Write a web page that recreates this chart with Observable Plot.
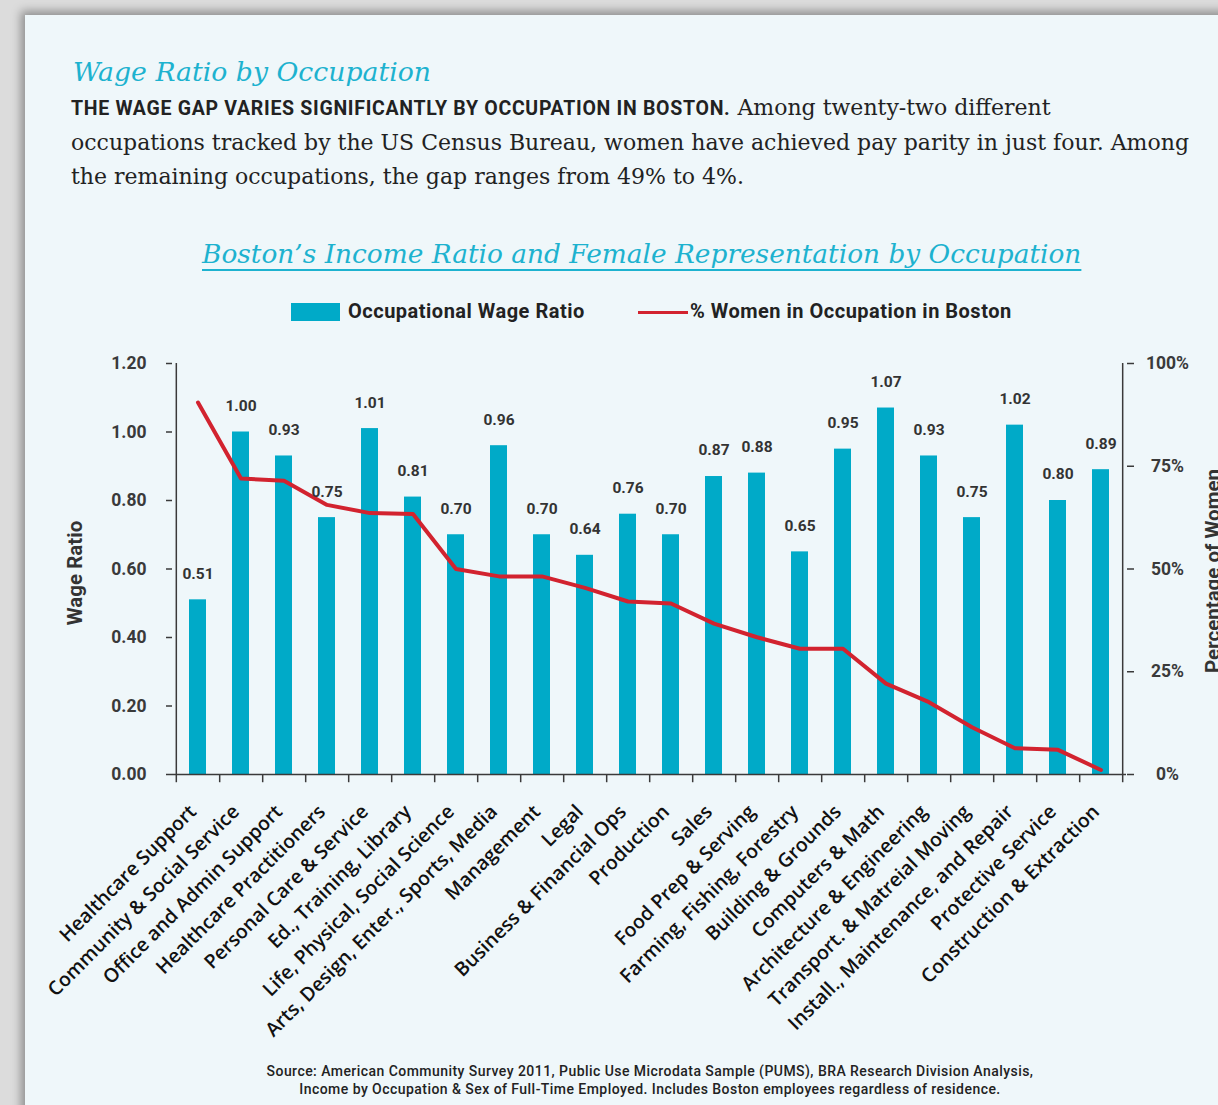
<!DOCTYPE html>
<html><head><meta charset="utf-8">
<script src="https://cdn.jsdelivr.net/npm/d3@7"></script>
<script src="https://cdn.jsdelivr.net/npm/@observablehq/plot@0.6"></script>
<style>
html,body{margin:0;padding:0;width:1218px;height:1105px;overflow:hidden;background:#dcdcdc;}
#card{position:absolute;left:25px;top:15px;width:1230px;height:1120px;background:#eff7fa;box-shadow:-4px -4px 9px rgba(0,0,0,0.35);}
.abs{position:absolute;white-space:nowrap;}
#title{left:73px;top:59px;font-family:"DejaVu Serif";font-style:italic;font-size:26.7px;line-height:1;color:#1db2cf;}
#para{left:71px;top:91px;font-family:"DejaVu Serif";font-size:22px;line-height:34px;color:#222;}
#para b{font-family:Roboto;font-weight:700;font-size:19.5px;letter-spacing:0.7px;}
#ctitle{left:202px;top:241px;font-family:"DejaVu Serif";font-style:italic;font-size:26.4px;line-height:1;color:#1db2cf;text-decoration:underline;text-decoration-thickness:2px;text-underline-offset:6px;}
.legtxt{font-family:Roboto;font-weight:700;font-size:20px;letter-spacing:0.5px;line-height:20px;color:#222;top:301px;}
#source{left:150px;width:1000px;top:1062px;text-align:center;font-family:Roboto;font-weight:500;font-size:14px;letter-spacing:0.45px;line-height:18px;color:#222;}
.ytitle{font-family:Roboto;font-weight:700;font-size:20.5px;color:#333;transform:translate(-50%,-50%) rotate(-90deg);}
#chart{position:absolute;left:0;top:330px;}
</style>
</head><body>
<div id="card"></div>
<div class="abs" id="title">Wage Ratio by Occupation</div>
<div class="abs" id="para"><b>THE WAGE GAP VARIES SIGNIFICANTLY BY OCCUPATION IN BOSTON.</b> Among twenty-two different<br>occupations tracked by the US Census Bureau, women have achieved pay parity in just four. Among<br>the remaining occupations, the gap ranges from 49% to 4%.</div>
<div class="abs" id="ctitle">Boston’s Income Ratio and Female Representation by Occupation</div>
<div class="abs" style="left:291px;top:303px;width:49px;height:18px;background:#00aac8;"></div>
<div class="abs legtxt" style="left:348px;">Occupational Wage Ratio</div>
<div class="abs" style="left:638px;top:311px;width:50px;height:3px;background:#d2232f;"></div>
<div class="abs legtxt" style="left:690px;">% Women in Occupation in Boston</div>
<div class="abs ytitle" style="left:75px;top:573px;">Wage Ratio</div>
<div class="abs ytitle" style="left:1213px;top:571px;">Percentage of Women</div>
<div id="chart"></div>
<div class="abs" id="source">Source: American Community Survey 2011, Public Use Microdata Sample (PUMS), BRA Research Division Analysis,<br>Income by Occupation &amp; Sex of Full-Time Employed. Includes Boston employees regardless of residence.</div>
<script>
const occupations = ["Healthcare Support","Community & Social Service","Office and Admin Support","Healthcare Practitioners","Personal Care & Service","Ed., Training, Library","Life, Physical, Social Science","Arts, Design, Enter., Sports, Media","Management","Legal","Business & Financial Ops","Production","Sales","Food Prep & Serving","Farming, Fishing, Forestry","Building & Grounds","Computers & Math","Architecture & Engineering","Transport. & Matreial Moving","Install., Maintenance, and Repair","Protective Service","Construction & Extraction"];
const wageRatio = [0.51,1.00,0.93,0.75,1.01,0.81,0.70,0.96,0.70,0.64,0.76,0.70,0.87,0.88,0.65,0.95,1.07,0.93,0.75,1.02,0.80,0.89];
const pctWomen = [90.5,72.0,71.5,65.6,63.6,63.4,50.0,48.2,48.2,45.4,42.1,41.6,36.7,33.4,30.6,30.6,22.1,17.6,11.5,6.4,6.0,1.1];
const leftTicks = [0,0.2,0.4,0.6,0.8,1.0,1.2];
const rightTicks = [0,25,50,75,100];

const data = occupations.map((o,i)=>({occ:o, wage:wageRatio[i], pct:pctWomen[i]}));
const W = 1218, ML = 172, MR = 92;
const step = (W-ML-MR)/occupations.length;
const P2Y = 1.2/100;
const ink = "#3a3a3a";

const chart = Plot.plot({
  width: W, height: 730,
  marginTop: 33, marginBottom: 286, marginLeft: ML, marginRight: MR,
  style: {background:"transparent", fontFamily:"Roboto", overflow:"visible", color: ink},
  x: {domain: occupations, paddingInner: 0.6, paddingOuter: 0.3},
  y: {domain: [0, 1.2]},
  marks: [
    Plot.barY(data, {x:"occ", y:"wage", fill:"#00aac8"}),
    Plot.ruleY([0], {stroke: ink, strokeWidth: 1.5}),
    Plot.ruleX([occupations[0]], {x: d=>d, y1: 0, y2: 1.2, dx: -step/2, stroke: ink, strokeWidth: 1.5}),
    Plot.ruleX([occupations[occupations.length-1]], {x: d=>d, y1: 0, y2: 1.2, dx: step/2, stroke: ink, strokeWidth: 1.5}),
    Plot.ruleX(occupations, {x: d=>d, y1: 0, y2: -0.024, dx: step/2, stroke: ink, strokeWidth: 1.5}),
    Plot.ruleX([occupations[0]], {x: d=>d, y1: 0, y2: -0.024, dx: -step/2, stroke: ink, strokeWidth: 1.5}),
    Plot.line(data, {x:"occ", y: d=>d.pct*P2Y, stroke:"#d2232f", strokeWidth:4, strokeLinejoin:"round"}),
    Plot.text(data, {x:"occ", y:"wage", text: d=>d.wage.toFixed(2), dy:-26, fontWeight:"bold", fontSize:15.5, fill:"#333"}),
    Plot.axisY({ticks: leftTicks, tickFormat: d=>d.toFixed(2), tickSize: 6, tickPadding: 20, fontSize: 17.5, fontWeight: "bold", label: null, stroke: ink, strokeWidth: 1.5}),
    Plot.axisY({anchor:"right", ticks: rightTicks.map(p=>p*P2Y), tickFormat: d=>Math.round(d/P2Y)+"%", tickSize: 7, tickPadding: 34, textAnchor:"middle", fontSize: 17.5, fontWeight: "bold", label: null, stroke: ink, strokeWidth: 1.5}),
    Plot.axisX({tickRotate: -45, tickSize: 0, tickPadding: 34, dx: -5, fontSize: 19.5, fontWeight: 600, fontFamily: "Open Sans", label: null, fill: "#111"})
  ]
});
document.getElementById("chart").appendChild(chart);
</script>
</body></html>
